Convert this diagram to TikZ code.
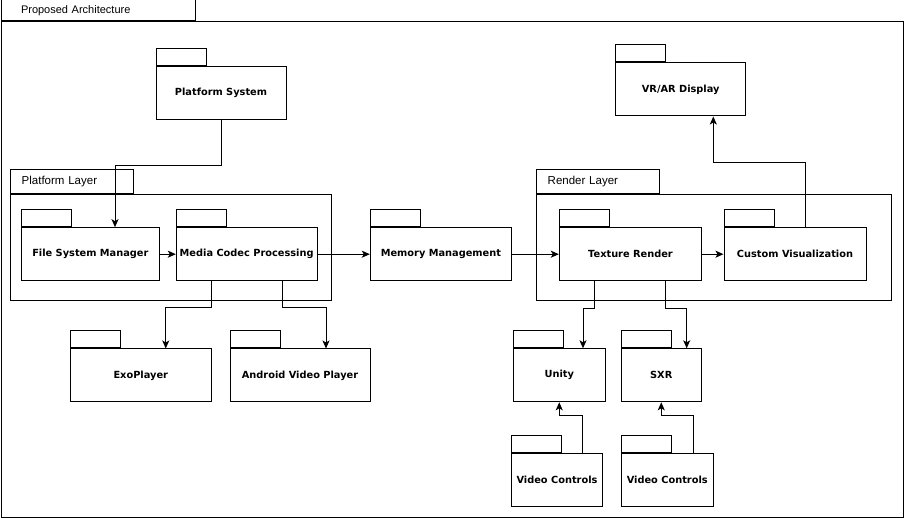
\documentclass[tikz,border=0pt]{standalone}
\usepackage{fontspec}
\setmainfont{Liberation Sans}
\newfontfamily\pkgfont{DejaVu Sans}
\usetikzlibrary{arrows.meta}

\begin{document}
\begin{tikzpicture}[
    x=1pt, y=-1pt,
    line width=1pt,
    pkg/.style={rectangle, draw, inner sep=0pt, minimum height=53, align=center, font=\pkgfont\bfseries\fontsize{9.8}{12}\selectfont},
    tab/.style={rectangle, draw, inner sep=0pt, minimum width=50, minimum height=17, anchor=south west},
    layer/.style={rectangle, draw, inner sep=0pt},
    layertab/.style={rectangle, draw, inner ysep=0pt, anchor=south west, align=left, font=\fontsize{11.5}{13}\selectfont},
    arrow/.style={-{Stealth[length=8pt,width=7pt,inset=2pt]}}
]
\useasboundingbox (0,0) rectangle (905,518);

% Outer frame
\node[layer, minimum width=902, minimum height=495] (frame) at (452,269.5) {};
\node[layertab, minimum width=194, minimum height=21, inner xsep=20pt, text width=154, font=\fontsize{11}{12}\selectfont] (frame-tab) at (frame.north west) {Proposed Architecture};

% Layers
\node[layer, minimum width=320.3, minimum height=106.2] (platlayer) at (170.85,247.4) {};
\node[layertab, minimum width=122.6, minimum height=23.6, inner xsep=11pt, text width=100.6] (platlayer-tab) at (platlayer.north west) {Platform Layer};

\node[layer, minimum width=355, minimum height=106.5] (renderlayer) at (714.2,247.75) {};
\node[layertab, minimum width=122.3, minimum height=23.8, inner xsep=11pt, text width=100.3] (renderlayer-tab) at (renderlayer.north west) {Render Layer};

% Top systems
\node[pkg, minimum width=130] (platsys) at (221,93.2) {Platform System};
\node[tab] (platsys-tab) at (platsys.north west) {};
\node[pkg, minimum width=130] (vrar) at (680.7,89.5) {VR/AR Display};
\node[tab] (vrar-tab) at (vrar.north west) {};

% Platform layer packages
\node[pkg, minimum width=137.3] (fsm) at (90.35,254.2) {File System Manager};
\node[tab] (fsm-tab) at (fsm.north west) {};
\node[pkg, minimum width=140.7] (mcp) at (246.65,254.2) {Media Codec Processing};
\node[tab] (mcp-tab) at (mcp.north west) {};

% Memory
\node[pkg, minimum width=141.2] (mem) at (440.9,254.2) {Memory Management};
\node[tab] (mem-tab) at (mem.north west) {};

% Render layer packages
\node[pkg, minimum width=142.4] (texture) at (630.5,254.2) {Texture Render};
\node[tab] (texture-tab) at (texture.north west) {};
\node[pkg, minimum width=142] (custom) at (795,254.2) {Custom Visualization};
\node[tab] (custom-tab) at (custom.north west) {};

% Players
\node[pkg, minimum width=141.5] (exo) at (140.75,375.5) {ExoPlayer};
\node[tab] (exo-tab) at (exo.north west) {};
\node[pkg, minimum width=140] (avp) at (300,375.5) {Android Video Player};
\node[tab] (avp-tab) at (avp.north west) {};

% Engines
\node[pkg, minimum width=92.5] (unity) at (559.25,375.3) {Unity};
\node[tab] (unity-tab) at (unity.north west) {};
\node[pkg, minimum width=80.5] (sxr) at (661.25,375.3) {SXR};
\node[tab] (sxr-tab) at (sxr.north west) {};

% Controls
\node[pkg, minimum width=91] (vc1) at (557,479.75) {Video Controls};
\node[tab] (vc1-tab) at (vc1.north west) {};
\node[pkg, minimum width=91.5] (vc2) at (667.25,479.75) {Video Controls};
\node[tab] (vc2-tab) at (vc2.north west) {};

% Connections
\draw[arrow] (platsys.south) -- ++(0,45.5) -| ([xshift=24.65]fsm.north);
\draw[arrow] (fsm) -- (mcp);
\draw[arrow] (mcp) -- (mem);
\draw[arrow] (mem) -- (texture);
\draw[arrow] (texture) -- (custom);
\draw[arrow] ([xshift=10.3]custom.north) -- ++(0,-65) -| ([xshift=32.6]vrar.south);

\draw[arrow] ([xshift=-35]mcp.south) -- ++(0,26.3) -| ([xshift=25]exo.north);
\draw[arrow] ([xshift=36]mcp.south) -- ++(0,26.3) -| ([xshift=26]avp.north);

\draw[arrow] ([xshift=-36.2]texture.south) -- ++(0,27) -| ([xshift=23.75]unity.north);
\draw[arrow] ([xshift=34.8]texture.south) -- ++(0,27) -| ([xshift=25.45]sxr.north);

\draw[arrow] ([xshift=25]vc1.north) -- ++(0,-37) -| (unity.south);
\draw[arrow] ([xshift=25.75]vc2.north) -- ++(0,-37) -| (sxr.south);

\end{tikzpicture}
\end{document}
